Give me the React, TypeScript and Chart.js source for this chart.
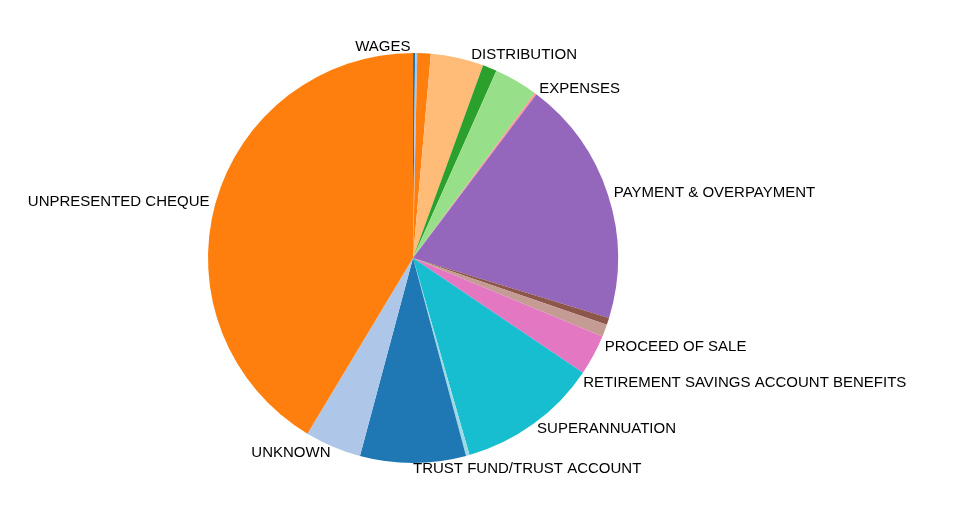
import { useEffect, useRef } from "react"
import { Chart, registerables } from "chart.js"

Chart.register(...registerables)

// slices clockwise from 12 o'clock, values in degrees of the circle
const categories = [
  "WAGES", "OTHER A", "OTHER B", "OTHER C", "DISTRIBUTION", "OTHER D", "EXPENSES",
  "PAYMENT & OVERPAYMENT", "OTHER E", "PROCEED OF SALE", "RETIREMENT SAVINGS ACCOUNT BENEFITS",
  "SUPERANNUATION", "OTHER F", "TRUST FUND/TRUST ACCOUNT", "UNKNOWN", "UNPRESENTED CHEQUE",
]
const values = [0.6, 0.6, 3.8, 15, 4, 12.4, 0.6, 70, 2, 3.5, 11.5, 40, 1, 30, 16, 149]
const shown = [1, 0, 0, 0, 1, 0, 1, 1, 0, 1, 1, 1, 0, 1, 1, 1]
const labelShift = [-1, 0, 0, 0, -6, 0, 0, 0, 0, 4, 8, 0, 0, 0, 0, 0]
const colors = [
  "#1f77b4", "#aec7e8", "#ff7f0e", "#ffbb78", "#2ca02c", "#98df8a", "#ff9896",
  "#9467bd", "#8c564b", "#c49c94", "#e377c2", "#17becf", "#9edae5",
  "#1f77b4", "#aec7e8", "#ff7f0e",
]

const labelPlugin = {
  id: "outerLabels",
  afterDraw(chart: any) {
    const ctx = chart.ctx
    const meta = chart.getDatasetMeta(0)
    ctx.save()
    ctx.font = "15px 'Liberation Sans', Arial, sans-serif"
    ctx.fillStyle = "#000"
    ctx.textBaseline = "middle"
    meta.data.forEach((arc: any, i: number) => {
      if (!shown[i]) return
      const mid = (arc.startAngle + arc.endAngle) / 2 + (labelShift[i] * Math.PI) / 180
      const r = arc.outerRadius * 1.03
      const x = arc.x + Math.cos(mid) * r
      const y = arc.y + Math.sin(mid) * r
      ctx.textAlign = i === 0 || x < arc.x - 1 ? "right" : "left"
      ctx.fillText(categories[i], x, y)
    })
    ctx.restore()
  },
}

export default function App() {
  const chartRef = useRef<HTMLCanvasElement>(null)
  const chartInstance = useRef<Chart | null>(null)

  useEffect(() => {
    if (!chartRef.current) return
    if (chartInstance.current) chartInstance.current.destroy()

    chartInstance.current = new Chart(chartRef.current, {
      type: "pie",
      data: {
        labels: categories,
        datasets: [{ data: values, backgroundColor: colors, borderWidth: 0 }],
      },
      options: {
        animation: false,
        responsive: true,
        maintainAspectRatio: false,
        layout: { padding: { left: 208, right: 338, top: 53, bottom: 45 } },
        plugins: { legend: { display: false }, tooltip: { enabled: false } },
      },
      plugins: [labelPlugin],
    } as any)

    return () => {
      if (chartInstance.current) chartInstance.current.destroy()
    }
  }, [])

  return (
    <div style={{ position: "fixed", left: 0, top: 0, width: 956, height: 508, background: "#fff" }}>
      <canvas ref={chartRef} />
    </div>
  )
}
